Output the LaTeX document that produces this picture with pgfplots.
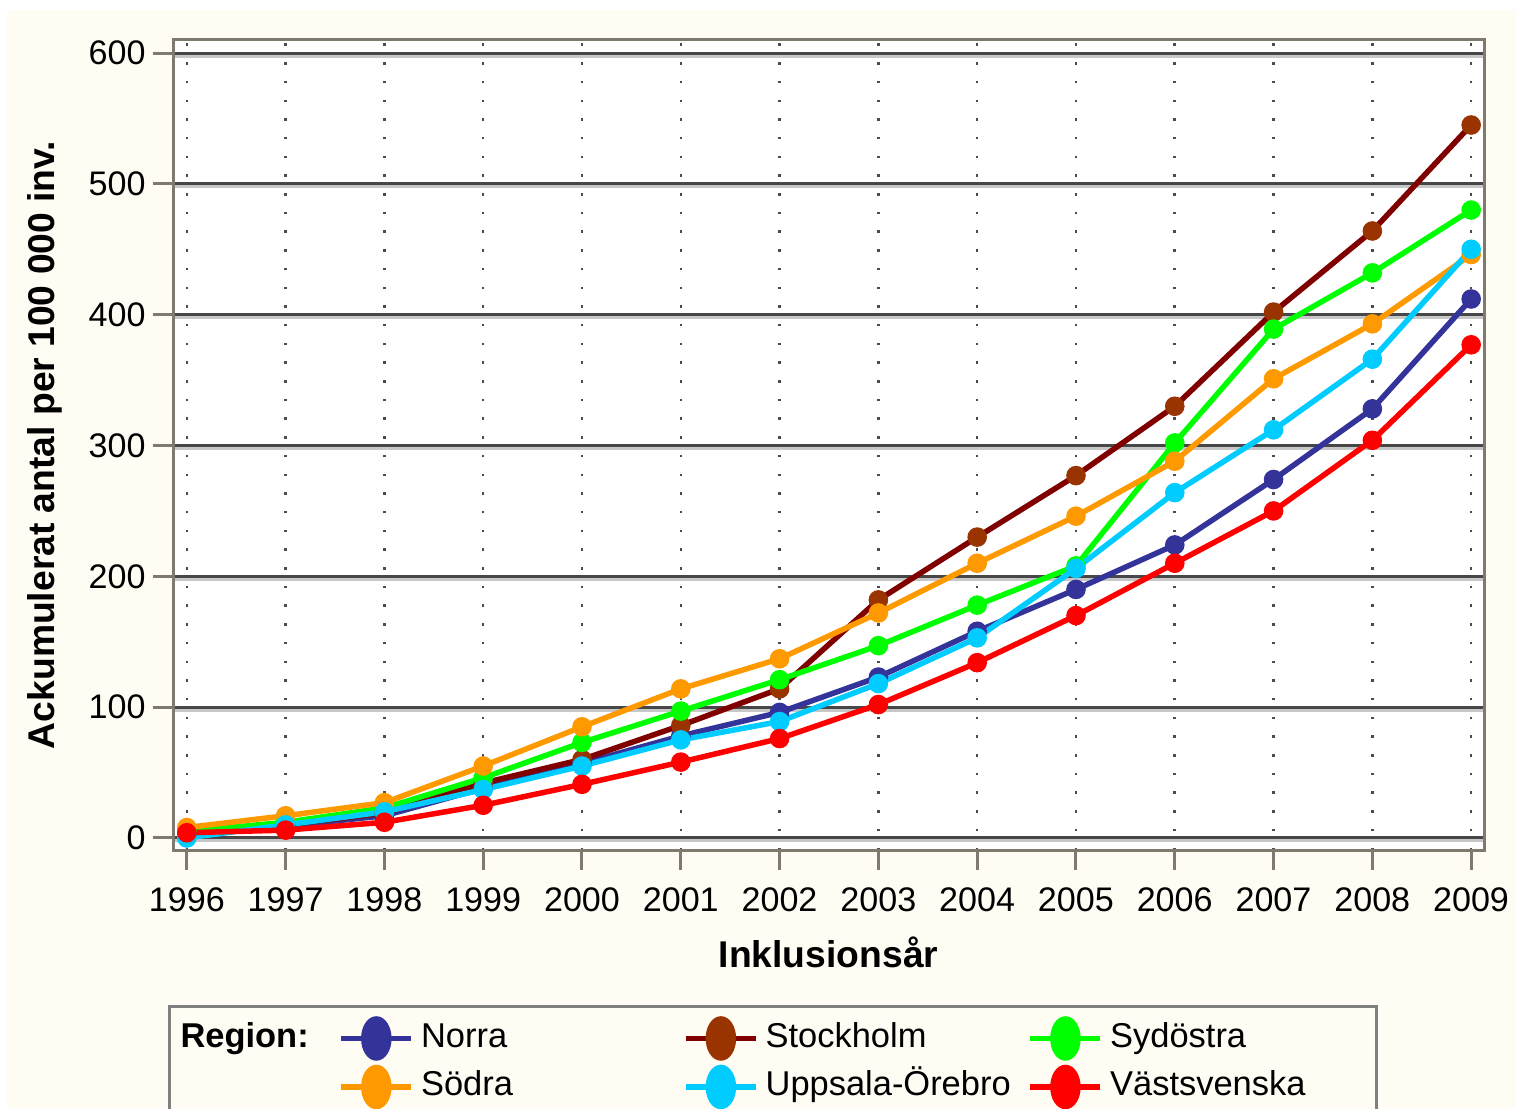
\documentclass[border=0pt]{standalone}
\usepackage{pgfplots}
\usepackage{pgfplotstable}
\pgfplotsset{compat=1.18}
\usepackage{fontspec}
\setmainfont{Liberation Sans}
\definecolor{cream}{RGB}{255,252,244}
\definecolor{norra}{RGB}{51,51,153}
\definecolor{stockline}{RGB}{128,0,0}
\definecolor{stockmark}{RGB}{153,51,0}
\definecolor{sydostra}{RGB}{0,255,0}
\definecolor{sodra}{RGB}{255,153,0}
\definecolor{uppsala}{RGB}{0,204,255}
\definecolor{vast}{RGB}{255,0,0}
\definecolor{framec}{RGB}{128,122,110}

\newcommand{\legimg}[2]{\addlegendimage{legend image code/.code={\draw[#1, line width=0.55mm] (0mm,0mm) -- (7mm,0mm); \fill[#2] (3.5mm,0mm) ellipse [x radius=1.25mm, y radius=1.95mm];}}}

\pgfplotstableread{
year norra stock syd sodra upp vast
1996 3   5   5   8   0   4
1997 9   10  12  17  10  6
1998 17  19  23  27  20  12
1999 38  42  46  55  37  25
2000 57  60  73  85  55  41
2001 78  86  97  114 75  58
2002 96  114 121 137 89  76
2003 123 182 147 172 118 102
2004 158 230 178 210 153 134
2005 190 277 208 246 206 170
2006 224 330 302 288 264 210
2007 274 402 389 351 312 250
2008 328 464 432 393 366 304
2009 412 545 480 446 450 377
}\data

\begin{document}
\begin{tikzpicture}
\useasboundingbox (0,0) rectangle (151.6mm,110.8mm);
\fill[white] (0,0) rectangle (151.6mm,110.8mm);
\fill[cream] (0.7mm,0) rectangle (151.6mm,109.8mm);
\begin{axis}[
  at={(17.3mm,25.8mm)}, anchor=south west,
  scale only axis, width=131.1mm, height=81mm,
  xmin=1995.86, xmax=2009.13, ymin=-9.2, ymax=610,
  axis background/.style={fill=white},
  axis line style={framec, line width=0.3mm},
  xtick={1996,...,2009}, ytick={0,100,...,600},
  tick align=outside, major tick length=2mm,
  tick style={framec, line width=0.3mm},
  xtick pos=bottom, ytick pos=left,
  xmajorgrids, ymajorgrids,
  x grid style={black!70, line width=0.25mm, dash pattern=on 0.25mm off 1.62mm},
  y grid style={black!72, line width=0.3mm, preaction={draw=black!22, line width=0.3mm, transform canvas={yshift=-0.3mm}}},
  ticklabel style={font=\fontsize{9.7}{11}\selectfont},
  /pgf/number format/assume math mode=true,
  xticklabel style={/pgf/number format/1000 sep=, yshift=-0.5mm},
  yticklabel style={/pgf/number format/1000 sep=, xshift=0.5mm},
  xlabel={\bfseries Inklusionsår},
  ylabel={\bfseries Ackumulerat antal per 100 000 inv.},
  label style={font=\fontsize{10.6}{12}\selectfont},
  xlabel style={at={(axis description cs:0.5,-0.1265)}, anchor=center},
  ylabel style={at={(axis description cs:-0.0975,0.5)}, anchor=center},
  legend columns=4,
  legend cell align=left,
  legend style={at={(axis description cs:-0.0038,-0.191)}, anchor=north west,
    draw=black!50, line width=0.3mm, fill=cream,
    font=\fontsize{9.8}{11}\selectfont,
    column sep=0pt, row sep=0.4mm, inner xsep=0.4mm, inner ysep=1mm,
    nodes={inner ysep=0.4mm, text height=2.5mm, text depth=0.7mm}},
  every axis plot/.append style={line width=0.55mm, mark=*, mark size=0.7mm},
]
\addplot[norra, mark options={fill=norra}, forget plot] table[x=year,y=norra]{\data};
\addplot[stockline, mark options={draw=stockmark, fill=stockmark}, forget plot] table[x=year,y=stock]{\data};
\addplot[sydostra, mark options={fill=sydostra}, forget plot] table[x=year,y=syd]{\data};
\addplot[sodra, mark options={fill=sodra}, forget plot] table[x=year,y=sodra]{\data};
\addplot[uppsala, mark options={fill=uppsala}, forget plot] table[x=year,y=upp]{\data};
\addplot[vast, mark options={fill=vast}, forget plot] table[x=year,y=vast]{\data};

\addlegendimage{empty legend}\addlegendentry[text width=15.1mm, font=\fontsize{9.8}{11}\selectfont\bfseries]{Region:}
\legimg{norra}{norra}\addlegendentry[text width=25.5mm]{Norra}
\legimg{stockline}{stockmark}\addlegendentry[text width=25.5mm]{Stockholm}
\legimg{sydostra}{sydostra}\addlegendentry[text width=25.5mm]{Sydöstra}
\addlegendimage{empty legend}\addlegendentry[text width=15.1mm]{}
\legimg{sodra}{sodra}\addlegendentry[text width=25.5mm]{Södra}
\legimg{uppsala}{uppsala}\addlegendentry[text width=25.5mm]{Uppsala-Örebro}
\legimg{vast}{vast}\addlegendentry[text width=25.5mm]{Västsvenska}
\end{axis}
\end{tikzpicture}
\end{document}
